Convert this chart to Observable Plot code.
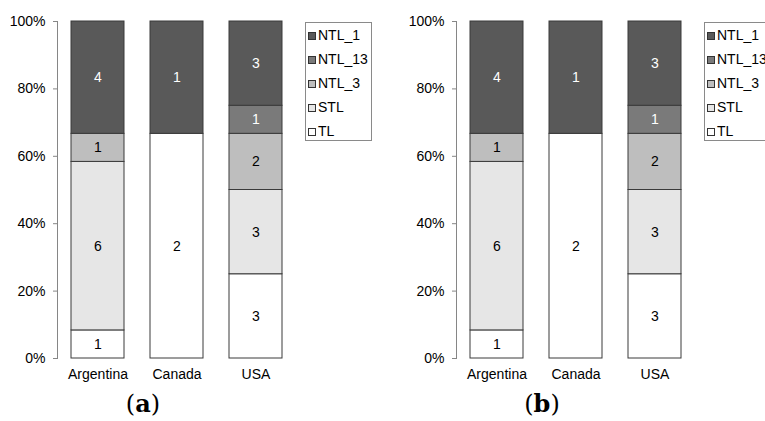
<!DOCTYPE html>
<html>
<head>
<meta charset="utf-8">
<script src="https://cdn.jsdelivr.net/npm/d3@7"></script>
<script src="https://cdn.jsdelivr.net/npm/@observablehq/plot@0.6"></script>
<style>
  html, body { margin: 0; padding: 0; background: #fff; }
  #root { position: relative; width: 765px; height: 421px; overflow: hidden; font-family: "Liberation Sans", Arial, sans-serif; }
  .panel { position: absolute; top: 0; }
  .legend { position: absolute; top: 22px; width: 67px; height: 119px; border: 1px solid #8a8a8a; background: #fff; box-sizing: border-box; font-size: 14px; color: #000; }
  .legend .item { position: absolute; left: 2px; height: 16px; line-height: 16px; white-space: nowrap; }
  .legend .sw { display: inline-block; width: 8px; height: 8px; border: 1px solid #333; box-sizing: border-box; vertical-align: 0px; margin-right: 2px; }
  .cap { position: absolute; top: 390px; font-family: "DejaVu Serif", "Liberation Serif", serif; font-size: 24px; line-height: 28px; transform: translateX(-50%); }
  .cap b { font-weight: bold; }
</style>
</head>
<body>
<div id="root"></div>
<script>
// ---- data ----
const countries = ["Argentina", "Canada", "USA"];
const seriesNames = ["TL", "STL", "NTL_3", "NTL_13", "NTL_1"]; // bottom to top
const legendOrder = ["NTL_1", "NTL_13", "NTL_3", "STL", "TL"];
const TL     = [1, 2, 3];
const STL    = [6, 0, 3];
const NTL_3  = [1, 0, 2];
const NTL_13 = [0, 0, 1];
const NTL_1  = [4, 1, 3];
const seriesColors = ["#ffffff", "#e6e6e6", "#bebebe", "#7a7a7a", "#595959"];
const textColors   = ["#000", "#000", "#000", "#fff", "#fff"];
const yTicks = [0, 0.2, 0.4, 0.6, 0.8, 1];
const panelLabels = ["a", "b"];

const valuesBySeries = {TL, STL, NTL_3, NTL_13, NTL_1};
const table = [];
seriesNames.forEach(s => countries.forEach((c, i) => {
  const v = valuesBySeries[s][i];
  if (v > 0) table.push({country: c, series: s, value: v});
}));

const root = document.getElementById("root");
const offsets = [0, 399];

function makePanel() {
  const stackOpts = {x: "country", y: "value", z: "series", order: seriesNames, offset: "normalize"};
  return Plot.plot({
    width: 300,
    height: 395,
    marginLeft: 57,
    marginRight: 4,
    marginTop: 21,
    marginBottom: 37,
    style: {fontFamily: "Liberation Sans, Arial, sans-serif", fontSize: "14px", color: "#000", background: "transparent"},
    x: {domain: countries, paddingInner: 0.33, paddingOuter: 0.177, label: null},
    y: {domain: [0, 1], label: null},
    color: {domain: seriesNames, range: seriesColors},
    marks: [
      Plot.barY(table, Plot.stackY({...stackOpts, fill: "series", stroke: "#3a3a3a", strokeWidth: 1, inset: 0})),
      Plot.text(table, Plot.stackY({...stackOpts, text: "value", fill: d => textColors[seriesNames.indexOf(d.series)], fontSize: 14})),
      Plot.axisY({ticks: yTicks, tickFormat: d3.format(".0%"), tickSize: 4, tickPadding: 8, stroke: "#868686", label: null, fontSize: 14}),
      Plot.axisX({tickSize: 0, tickPadding: 11, label: null, fontSize: 14}),
      Plot.frame({anchor: "left", stroke: "#868686"})
    ]
  });
}

offsets.forEach((off, k) => {
  const wrap = document.createElement("div");
  wrap.className = "panel";
  wrap.style.left = off + "px";
  wrap.appendChild(makePanel());
  root.appendChild(wrap);

  const leg = document.createElement("div");
  leg.className = "legend";
  leg.style.left = (off + 305) + "px";
  legendOrder.forEach((s, j) => {
    const it = document.createElement("div");
    it.className = "item";
    it.style.top = (4 + j * 24) + "px";
    const sw = document.createElement("span");
    sw.className = "sw";
    sw.style.background = seriesColors[seriesNames.indexOf(s)];
    it.appendChild(sw);
    it.appendChild(document.createTextNode(s));
    leg.appendChild(it);
  });
  root.appendChild(leg);

  const cap = document.createElement("div");
  cap.className = "cap";
  cap.style.left = (off + 143) + "px";
  cap.innerHTML = "(<b>" + panelLabels[k] + "</b>)";
  root.appendChild(cap);
});
</script>
</body>
</html>
